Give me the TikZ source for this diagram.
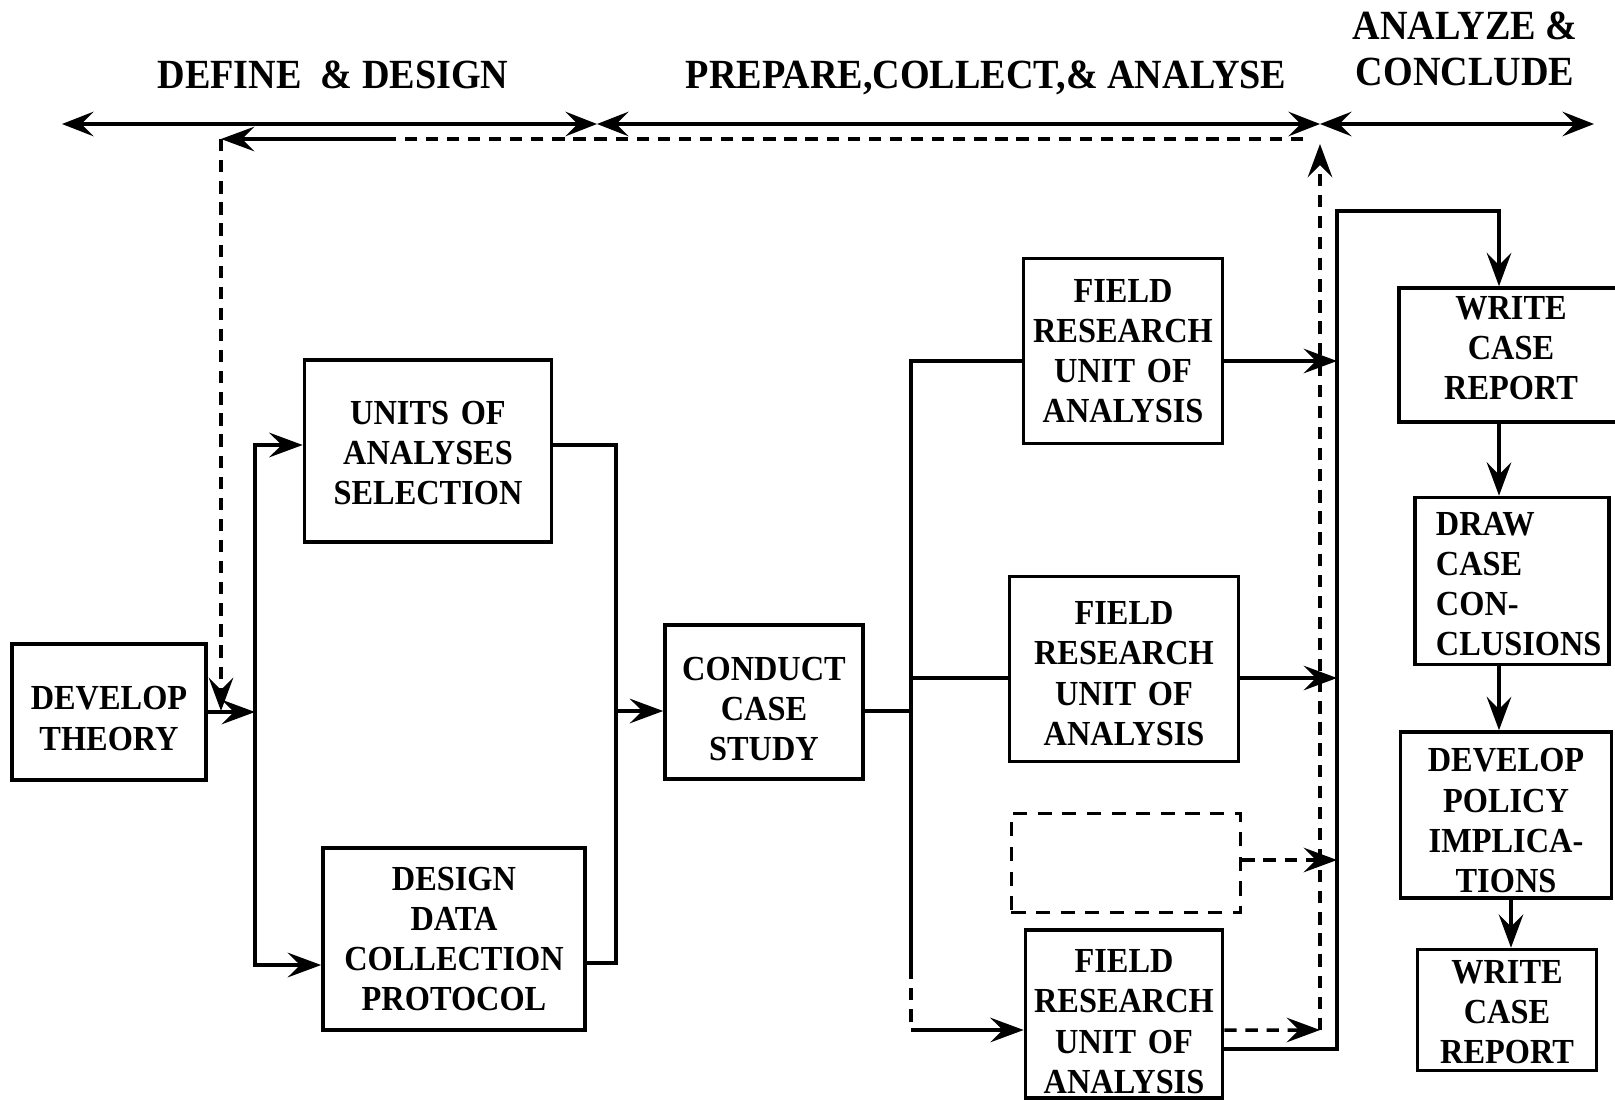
\documentclass[tikz,border=0pt]{standalone}
\usepackage{fontspec}
\setmainfont{Liberation Serif}[FakeStretch=0.92]
\usepackage{tikz}
\usetikzlibrary{positioning,arrows.meta,calc}

\tikzset{
  box/.style={draw, line width=1pt, align=center, inner sep=1pt,
    font=\bfseries\fontsize{10}{11.4}\selectfont},
  ghost/.style={box, dash pattern=on 4pt off 3pt},
  low/.style={execute at begin node={\rule{0pt}{#1}}},
  high/.style={execute at end node={\rule[-#1]{0pt}{#1}}},
  phase/.style={align=center, font=\bfseries\fontsize{11.8}{13}\selectfont},
  wire/.style={line width=1pt},
  back/.style={line width=1pt, dash pattern=on 3.5pt off 2.5pt},
  tip/.style={-{Stealth[length=9.5pt,width=7pt,inset=3.5pt]}},
  span/.style={line width=1pt,
    {Stealth[length=9pt,width=7pt,inset=3.5pt]}-{Stealth[length=9pt,width=7pt,inset=3.5pt]}}
}

\begin{document}
\begin{tikzpicture}[x=0.01cm, y=-0.01cm]
  \useasboundingbox (0,0) rectangle (1615,1100);

  % phases
  \node[phase] (define) at (333,75) {DEFINE \ \& DESIGN};
  \node[phase] (collect) at (986,78) {PREPARE,COLLECT,\& ANALYSE};
  \node[phase] (conclude) at (1465,49) {ANALYZE \&\\CONCLUDE};
  \coordinate (s0) at (62,124);
  \coordinate (s1) at (597,124);
  \coordinate (s2) at (1320,124);
  \coordinate (s3) at (1594,124);
  \draw[span] (s0) -- (s1);
  \draw[span] (s1) -- (s2);
  \draw[span] (s2) -- (s3);

  % boxes
  \node[box, low=10.35pt, text width=1.87cm, minimum height=1.36cm] (theory) at (109,712) {DEVELOP\\THEORY};
  \node[box, low=8pt, text width=2.40cm, minimum height=1.82cm] (units) at (428,451) {UNITS OF\\ANALYSES\\SELECTION};
  \node[box, text width=2.55cm, minimum height=1.82cm] (protocol) at (454,939) {DESIGN\\DATA\\COLLECTION\\PROTOCOL};
  \node[box, low=10.6pt, text width=1.91cm, minimum height=1.54cm] (study) at (764,702) {CONDUCT\\CASE\\STUDY};
  \node[box, text width=1.92cm, minimum height=1.85cm] (unitA) at (1123,351) {FIELD\\RESEARCH\\UNIT OF\\ANALYSIS};
  \node[box, low=9.2pt, text width=2.22cm, minimum height=1.85cm] (unitB) at (1124,669) {FIELD\\RESEARCH\\UNIT OF\\ANALYSIS};
  \node[ghost, minimum width=2.29cm, minimum height=0.99cm] (unitX) at (1126,863) {};
  \node[box, low=10.9pt, text width=1.90cm, minimum height=1.68cm] (unitC) at (1124,1014) {FIELD\\RESEARCH\\UNIT OF\\ANALYSIS};
  \node[box, high=4pt, minimum width=2.24cm, minimum height=1.34cm] (report) at (1511,355) {WRITE\\CASE\\REPORT};
  \node[box, low=8.4pt, align=left, text width=1.52cm, minimum width=1.94cm, minimum height=1.67cm] (findings) at (1512,581) {DRAW\\CASE\\CON-\\CLUSIONS};
  \node[box, low=9.8pt, text width=2.04cm, minimum height=1.66cm] (policy) at (1506,815) {DEVELOP\\POLICY\\IMPLICA-\\TIONS};
  \node[box, low=8pt, text width=1.72cm, minimum height=1.21cm] (final) at (1507,1010) {WRITE\\CASE\\REPORT};

  % define & design
  \coordinate (forkL) at (255,711);
  \coordinate (joinL) at (616,711);
  \draw[wire, tip] (theory) -- (theory -| forkL);
  \draw[wire, tip] (forkL) |- ([yshift=0.06cm]units.west);
  \draw[wire, tip] (forkL) |- ([yshift=-0.26cm]protocol.west);
  \draw[wire] ([yshift=0.06cm]units.east) -| (joinL) |- ([yshift=-0.24cm]protocol.east);
  \draw[wire, tip] (joinL) -- (joinL -| study.west);

  % field units
  \coordinate (forkR) at (911,711);
  \coordinate (dashR) at (911,967);
  \coordinate (cornerR) at (911,1030);
  \draw[wire] (study.east |- forkR) -- (forkR);
  \draw[wire] ([yshift=-0.1cm]unitA.west) -| (forkR) -- (dashR);
  \draw[wire] ([yshift=-0.09cm]unitB.west) -- ([yshift=-0.09cm]unitB.west -| forkR);
  \draw[back] (dashR) -- (cornerR);
  \draw[wire, tip] (cornerR) -- (cornerR -| unitC.west);

  % collector into the report
  \coordinate (sinkT) at (1337,211);
  \draw[wire, tip] ([yshift=-0.35cm]unitC.east) -| (sinkT) -| (1499,0 |- report.north);
  \draw[wire, tip] ([yshift=-0.1cm]unitA.east) -- ([yshift=-0.1cm]unitA.east -| sinkT);
  \draw[wire, tip] ([yshift=-0.09cm]unitB.east) -- ([yshift=-0.09cm]unitB.east -| sinkT);
  \draw[back, tip] ([yshift=0.03cm]unitX.east) -- ([yshift=0.03cm]unitX.east -| sinkT);

  % feedback loop
  \coordinate (loopB) at (1320,1030);
  \coordinate (loopT) at (1320,144);
  \coordinate (loopR) at (1303,139);
  \coordinate (loopS) at (386,139);
  \coordinate (loopL) at (221,139);
  \draw[back, tip] ([yshift=-0.16cm]unitC.east) -- (loopB);
  \draw[back, tip] (loopB) -- (loopT);
  \draw[back] (loopR) -- (loopS);
  \draw[wire, tip] (loopS) -- (loopL);
  \draw[back, tip] (loopL) -- (loopL |- forkL);

  % analyze & conclude
  \draw[wire, tip] (1499,0 |- report.south) -- (1499,0 |- findings.north);
  \draw[wire, tip] (1499,0 |- findings.south) -- (1499,0 |- policy.north);
  \draw[wire, tip] ([xshift=0.05cm]policy.south) -- ([xshift=0.05cm]policy.south |- final.north);
\end{tikzpicture}
\end{document}
